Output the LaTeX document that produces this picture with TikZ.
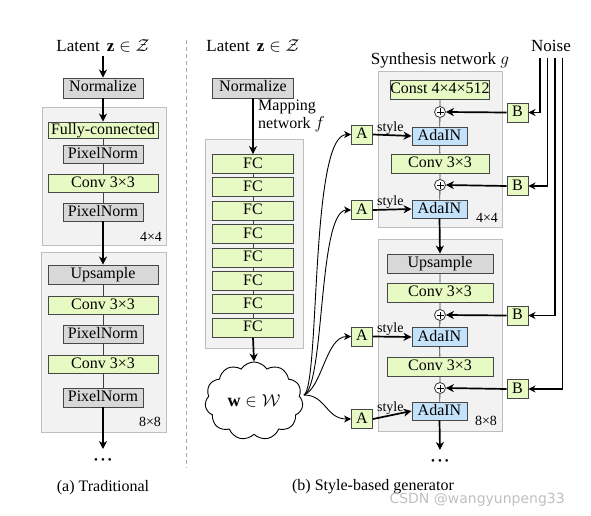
\documentclass[tikz,border=0pt]{standalone}
\usepackage{fontspec}
\setmainfont{Liberation Serif}
\newfontfamily\wmfont{DejaVu Sans}
\usetikzlibrary{shapes.symbols,arrows.meta}
\definecolor{gfill}{RGB}{232,250,196}
\definecolor{bfill}{RGB}{196,226,250}
\definecolor{kfill}{RGB}{216,216,216}
\definecolor{blk}{RGB}{242,242,242}
\definecolor{blkdraw}{RGB}{190,190,190}
\begin{document}
\begin{tikzpicture}[x=1pt,y=-1pt,
  font=\fontsize{16}{18}\selectfont,
  bx/.style={draw=black!72, line width=0.9pt, inner sep=0pt, minimum height=18pt, text height=11pt, text depth=3pt},
  gbox/.style={bx, fill=gfill},
  kbox/.style={bx, fill=kfill},
  abox/.style={bx, fill=bfill, minimum width=55pt},
  sbox/.style={bx, fill=gfill, minimum width=21pt, minimum height=19pt},
  blockbg/.style={fill=blk, draw=blkdraw, line width=0.8pt},
  pl/.style={circle, draw=black!80, fill=white, line width=0.8pt, minimum size=11pt, inner sep=0pt},
  thin/.style={draw=black!75, line width=0.9pt},
  main/.style={draw=black, line width=1.7pt, -{Stealth[length=8pt,width=8pt,inset=2.5pt]}},
  curv/.style={draw=black, line width=0.9pt, -{Stealth[length=7pt,width=7pt,inset=2.2pt]}},
  nz/.style={draw=black, line width=1.1pt, -{Stealth[length=7pt,width=7pt,inset=2.2pt]}},
  small/.style={font=\fontsize{14}{16}\selectfont},
  dots/.style={font=\fontsize{11}{12}\selectfont, inner sep=0pt},
  ttl/.style={font=\fontsize{17}{19}\selectfont},
  ]
\useasboundingbox (0,0) rectangle (591,516);

% ---------------- (a) Traditional ----------------
\node[ttl] (latA) at (103,46) {Latent\, $\mathbf{z}\in\mathcal{Z}$};
\draw[blockbg] (42,107) rectangle (166,245);
\draw[blockbg] (41,252) rectangle (166,432);
\node[kbox, minimum width=80pt, minimum height=20pt] (normA) at (103,88) {Normalize};
\node[gbox, minimum width=110pt, minimum height=16pt] (fcA) at (103,130) {Fully-connected};
\node[kbox, minimum width=80pt] (pnA1) at (103,154) {PixelNorm};
\node[gbox, minimum width=110pt] (convA1) at (103,183) {Conv 3×3};
\node[kbox, minimum width=80pt] (pnA2) at (103,212) {PixelNorm};
\node[small] (lA1) at (151,237) {4×4};
\node[kbox, minimum width=110pt, minimum height=19pt] (upA) at (103,274.5) {Upsample};
\node[gbox, minimum width=110pt] (convA2) at (103,305) {Conv 3×3};
\node[kbox, minimum width=80pt] (pnA3) at (103,334) {PixelNorm};
\node[gbox, minimum width=110pt] (convA3) at (103,364) {Conv 3×3};
\node[kbox, minimum width=80pt, minimum height=19pt] (pnA4) at (103,397.5) {PixelNorm};
\node[small] (lA2) at (150,422) {8×8};
\coordinate (endA) at (103,449);
\node[dots] (dotsA) at (103,461) {\textbullet\hspace{3pt}\textbullet\hspace{3pt}\textbullet};
\node (capA) at (103,488) {(a) Traditional};

\draw[main] (latA.south) -- (normA.north);
\draw[main] (normA.south) -- (fcA.north);
\draw[thin] (fcA) -- (pnA1) (pnA1) -- (convA1) (convA1) -- (pnA2);
\draw[main] (pnA2.south) -- (upA.north);
\draw[thin] (upA) -- (convA2) (convA2) -- (pnA3) (pnA3) -- (convA3) (convA3) -- (pnA4);
\draw[main] (pnA4.south) -- (endA);

% separator
\draw[gray!70, line width=0.8pt, dash pattern=on 4pt off 3pt] (186,40) -- (186,468);

% ---------------- (b) Mapping ----------------
\node[ttl] (latB) at (253,46) {Latent\, $\mathbf{z}\in\mathcal{Z}$};
\node[kbox, minimum width=81pt, minimum height=20pt] (normB) at (253,88) {Normalize};
\node[anchor=west, inner sep=0pt] (mapl1) at (258,107) {Mapping};
\node[anchor=west, inner sep=0pt] (mapl2) at (258,124) {network $f$};
\draw[blockbg] (205,139) rectangle (303,348);
\foreach \i in {1,...,8} {
  \node[gbox, minimum width=81pt, minimum height=19pt] (fc\i) at (253,{164+23.4*(\i-1)}) {FC};
}
\foreach \i/\j in {1/2,2/3,3/4,4/5,5/6,6/7,7/8} { \draw[thin] (fc\i) -- (fc\j); }
\draw[main] (normB.south) -- (fc1.north);
\node[cloud, draw=black, line width=0.9pt, fill=white, cloud puffs=11, cloud puff arc=115, aspect=1.3,
      minimum width=98pt, minimum height=78pt, inner sep=0pt, font=\fontsize{18}{20}\selectfont] (cloudw) at (254,401) {$\mathbf{w}\in\mathcal{W}$};
\draw[main] (fc8.south) -- (cloudw.north);

% ---------------- (b) Synthesis ----------------
\node[ttl] (synl) at (440,60) {Synthesis network $g$};
\node[ttl] (noisel) at (551,46) {Noise};
\draw[blockbg] (378,71) rectangle (502,227);
\draw[blockbg] (378,239) rectangle (502,431);

\node[gbox, minimum width=98pt, minimum height=19pt] (const) at (440,89.5) {Const 4×4×512};
\node[pl] (p1) at (440,112) {};
\node[abox] (ada1) at (439.5,136) {AdaIN};
\node[gbox, minimum width=98pt, minimum height=19pt] (conv1) at (440,163.5) {Conv 3×3};
\node[pl] (p2) at (440,185) {};
\node[abox] (ada2) at (439.5,209) {AdaIN};
\node[small] (lC1) at (487,218) {4×4};

\node[kbox, minimum width=106pt, minimum height=19pt] (upC) at (440,263.5) {Upsample};
\node[gbox, minimum width=106pt, minimum height=19pt] (conv2) at (440,292.5) {Conv 3×3};
\node[pl] (p3) at (440,315) {};
\node[abox, minimum height=19pt] (ada3) at (439.5,337) {AdaIN};
\node[gbox, minimum width=106pt, minimum height=19pt] (conv3) at (440,366.5) {Conv 3×3};
\node[pl] (p4) at (440,388) {};
\node[abox] (ada4) at (439.5,411) {AdaIN};
\node[small] (lC2) at (486,421) {8×8};
\coordinate (endC) at (440,450);
\node[dots] (dotsC) at (440,462) {\textbullet\hspace{3pt}\textbullet\hspace{3pt}\textbullet};
\node (capB) at (373,487) {(b) Style-based generator};

% plus signs
\foreach \p in {p1,p2,p3,p4} {
  \draw[line width=0.8pt] ([xshift=-3.5pt]\p.center) -- ([xshift=3.5pt]\p.center)
                          ([yshift=-3.5pt]\p.center) -- ([yshift=3.5pt]\p.center);
}

\draw[thin] (const) -- (p1) (p1) -- (ada1) (ada1) -- (conv1) (conv1) -- (p2) (p2) -- (ada2);
\draw[main] (ada2.south) -- (upC.north);
\draw[thin] (upC) -- (conv2) (conv2) -- (p3) (p3) -- (ada3) (ada3) -- (conv3) (conv3) -- (p4) (p4) -- (ada4);
\draw[main] (ada4.south) -- (endC);

% A boxes
\node[sbox] (A1) at (362,134.5) {A};
\node[sbox] (A2) at (362,210) {A};
\node[sbox] (A3) at (362,336.5) {A};
\node[sbox] (A4) at (362,419) {A};
\foreach \a/\d in {A1/ada1,A2/ada2,A3/ada3,A4/ada4} {
  \draw[main] (\a.east) -- (\d.west) node[pos=0.45, above=-1pt, small, inner sep=1pt] {style};
}

% B boxes
\node[sbox] (B1) at (517.5,112.5) {B};
\node[sbox] (B2) at (517.5,186) {B};
\node[sbox] (B3) at (517.5,315.5) {B};
\node[sbox] (B4) at (517.5,389) {B};
\draw[main] (B1.west) -- (p1.east);
\draw[main] (B2.west) -- (p2.east);
\draw[main] (B3.west) -- (p3.east);
\draw[main] (B4.west) -- (p4.east);

% noise lines
\coordinate (n1) at (540,58);
\coordinate (n2) at (547.5,58);
\coordinate (n3) at (555,58);
\coordinate (n4) at (562.5,58);
\draw[nz] (n1) |- (B1.east);
\draw[nz] (n2) |- (B2.east);
\draw[nz] (n3) |- (B3.east);
\draw[nz] (n4) |- (B4.east);

% cloud connectors
\coordinate (wc) at (304,395);
\draw[curv] (wc) .. controls (320,385) and (310,134.5) .. (A1.west);
\draw[curv] (wc) .. controls (325,385) and (318,210) .. (A2.west);
\draw[curv] (wc) .. controls (322,388) and (326,336.5) .. (A3.west);
\draw[curv] (wc) .. controls (326,395) and (326,419) .. (A4.west);

% watermark
\node[text=gray!50, font=\wmfont\fontsize{14}{16}\selectfont, anchor=west] (wm) at (386,500) {CSDN @wangyunpeng33};
\end{tikzpicture}
\end{document}
